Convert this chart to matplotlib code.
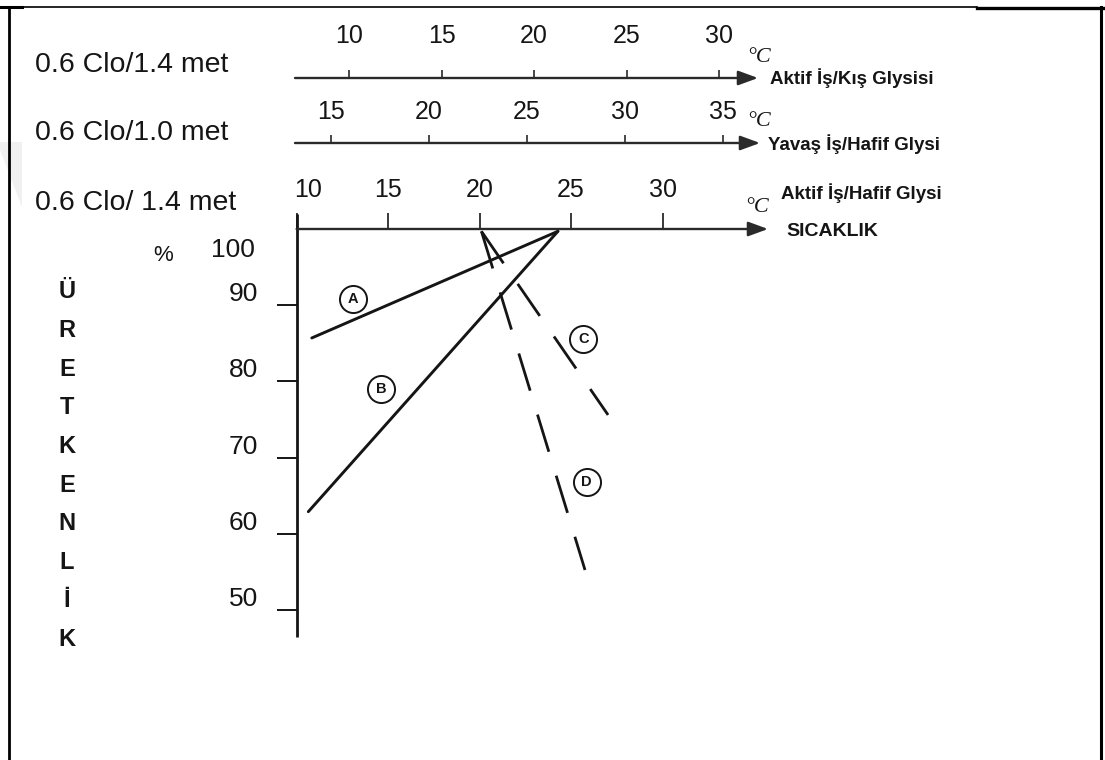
import matplotlib
matplotlib.use("Agg")
import matplotlib.pyplot as plt
from matplotlib.lines import Line2D
from matplotlib.patches import Polygon

# ---------------- data ----------------
ticks_kis = [10, 15, 20, 25, 30]          # 0.6 Clo/1.4 met  (Aktif İş/Kış Glysisi)
ticks_yavas = [15, 20, 25, 30, 35]        # 0.6 Clo/1.0 met  (Yavaş İş/Hafif Glysi)
ticks_main = [10, 15, 20, 25, 30]         # 0.6 Clo/ 1.4 met (Aktif İş/Hafif Glysi)
y_ticks = [50, 60, 70, 80, 90]
y_tick_labels = ["50", "60", "70", "80", "90"]
y_top_label = "100"

left_labels = ["0.6 Clo/1.4 met", "0.6 Clo/1.0 met", "0.6 Clo/ 1.4 met"]
right_labels = ["Aktif İş/Kış Glysisi", "Yavaş İş/Hafif Glysi", "Aktif İş/Hafif Glysi"]
x_title = "SICAKLIK"
y_title = list("ÜRETKENLİK")

line_A_x = [10.83, 24.28]
line_A_y = [85.7, 99.7]
line_B_x = [10.64, 24.28]
line_B_y = [62.9, 99.7]
line_C_x = [20.1, 27.02]
line_C_y = [99.7, 75.6]
line_D_x = [20.1, 25.76]
line_D_y = [99.7, 55.25]

circle_names = ["A", "B", "C", "D"]
circle_x = [13.1, 14.6, 25.67, 25.85]
circle_y = [90.8, 79.0, 85.5, 66.8]

# ---------------- layout helpers (pixel geometry of the picture) ----------------
W, H = 1105, 760
fig = plt.figure(figsize=(W / 100, H / 100), dpi=100)
fig.patch.set_facecolor("white")

SANS = ["Liberation Sans", "DejaVu Sans"]
SERIF = ["Liberation Serif", "DejaVu Serif"]
INK = "#151515"
AXC = "#2a2a2a"


def fx(px):
    return px / W


def fy(py):
    return 1 - py / H


# faint watermark at the left edge
fig.add_artist(Polygon([(fx(0), fy(142)), (fx(22), fy(142)), (fx(22), fy(207)),
                        (fx(0), fy(150))], closed=True, transform=fig.transFigure,
                       facecolor="#f1f1f1", edgecolor="none", zorder=0))

# frame
fig.add_artist(Line2D([fx(9), fx(9)], [fy(7), fy(760)], transform=fig.transFigure, color="black", lw=2.0))
fig.add_artist(Line2D([fx(9), fx(977)], [fy(7), fy(7)], transform=fig.transFigure, color="black", lw=1.2))
fig.add_artist(Line2D([fx(0), fx(22)], [fy(7), fy(7)], transform=fig.transFigure, color="black", lw=2.2))
fig.add_artist(Line2D([fx(977), fx(1105)], [fy(7.5), fy(7.5)], transform=fig.transFigure, color="black", lw=2.4))
fig.add_artist(Line2D([fx(1101), fx(1101)], [fy(7), fy(760)], transform=fig.transFigure, color="black", lw=2.2))

ARROW = dict(arrowstyle="-|>,head_length=0.6,head_width=0.22", color=AXC, lw=1.7,
             mutation_scale=20, shrinkA=0, shrinkB=0)

# ---------------- main axes: temperature (deg C) vs productivity (%) ----------------
MX0, MSCALE = 479.6, 18.3     # px of 20 degC, px per degC
MY0, MYSCALE = 229.0, 7.62    # px of 100 %, px per %


def t_main(px):
    return 20 + (px - MX0) / MSCALE


def p_main(py):
    return 100 - (py - MY0) / MYSCALE


ax = fig.add_axes([0, 0, 1, 1])
ax.set_xlim(t_main(0), t_main(W))
ax.set_ylim(p_main(H), p_main(0))
ax.axis("off")
ax.patch.set_alpha(0)

# horizontal (temperature) axis with arrow
ax.annotate("", xy=(t_main(768), 100), xytext=(10, 100), arrowprops=ARROW)
ax.vlines(ticks_main, 100, 100 + 16 / MYSCALE, color=AXC, lw=1.3)
for t in ticks_main:
    dx = 0.65 if t == ticks_main[0] else 0
    ax.text(t + dx, 100 + 39 / MYSCALE, str(t), ha="center", va="center",
            fontsize=18, family=SANS, color=INK)

# vertical (productivity) axis
ax.plot([10, 10], [p_main(637), p_main(214)], color=INK, lw=2.0, solid_capstyle="butt")
ax.hlines(y_ticks, 10 - 20 / MSCALE, 10, color=INK, lw=1.4)
lab_x = t_main(258)
for v, s in zip(y_ticks, y_tick_labels):
    ax.text(lab_x, v + 11 / MYSCALE, s, ha="right", va="center", fontsize=19,
            family=SANS, color=INK)
ax.text(lab_x - 3 / MSCALE, 100 - 21 / MYSCALE, y_top_label, ha="right", va="center",
        fontsize=19, family=SANS, color=INK)

# curves
ax.plot(line_A_x, line_A_y, color=INK, lw=2.1, solid_capstyle="round")
ax.plot(line_B_x, line_B_y, color=INK, lw=2.1, solid_capstyle="round")
ax.plot(line_C_x, line_C_y, color=INK, lw=2.0, linestyle=(0, (14, 9)))
ax.plot(line_D_x, line_D_y, color=INK, lw=2.0, linestyle=(0, (14, 9)))

# circled letters
ax.plot(circle_x, circle_y, linestyle="none", marker="o", ms=19.5, mfc="white",
        mec=INK, mew=1.4, zorder=4)
for n, cx, cy in zip(circle_names, circle_x, circle_y):
    ax.text(cx, cy, n, ha="center", va="center", fontsize=10.5, fontweight="bold",
            family=SANS, color=INK, zorder=5)

# ---------------- secondary temperature scales ----------------


def scale_axis(x0px, scale, ref, ticks, line_py, label_py, tip_px):
    """x0px: pixel of ref degC, scale: px per degC."""
    a = fig.add_axes([0, 0, 1, 1])
    a.set_xlim(ref + (0 - x0px) / scale, ref + (W - x0px) / scale)
    a.set_ylim(H, 0)
    a.axis("off")
    a.patch.set_alpha(0)
    a.annotate("", xy=(ref + (tip_px - x0px) / scale, line_py),
               xytext=(ref + (295 - x0px) / scale, line_py), arrowprops=ARROW)
    a.vlines(ticks, line_py - 8, line_py, color=AXC, lw=1.2)
    for t in ticks:
        a.text(t, label_py, str(t), ha="center", va="center", fontsize=18,
               family=SANS, color=INK)
    return a


scale_axis(534.0, 18.5, 20, ticks_kis, 78, 36, 758)
scale_axis(527.0, 19.6, 25, ticks_yavas, 143, 112, 760)

# ---------------- texts ----------------
for s, py in zip(left_labels, [65, 133, 203]):
    fig.text(fx(35), fy(py), s, ha="left", va="center", fontsize=20.5, family=SANS, color=INK)

for s, (px, py) in zip(right_labels, [(770, 78), (768, 144), (781, 193)]):
    fig.text(fx(px), fy(py), s, ha="left", va="center", fontsize=13.5, fontweight="bold",
             family=SANS, color=INK)
fig.text(fx(786), fy(232), x_title, ha="left", va="center", fontsize=14, fontweight="bold",
         family=SANS, color=INK)

for px, py in [(747, 57), (747, 121), (745, 207)]:
    fig.text(fx(px), fy(py), "°C", ha="left", va="center", fontsize=16, style="italic",
             family=SERIF, color=INK)

fig.text(fx(163), fy(256), "%", ha="center", va="center", fontsize=16, family=SANS, color=INK)

for k, ch in enumerate(y_title):
    fig.text(fx(67), fy(292 + 38.6 * k), ch, ha="center", va="center", fontsize=17,
             fontweight="bold", family=SANS, color=INK)

fig.savefig("out.png", dpi=100, facecolor="white")
